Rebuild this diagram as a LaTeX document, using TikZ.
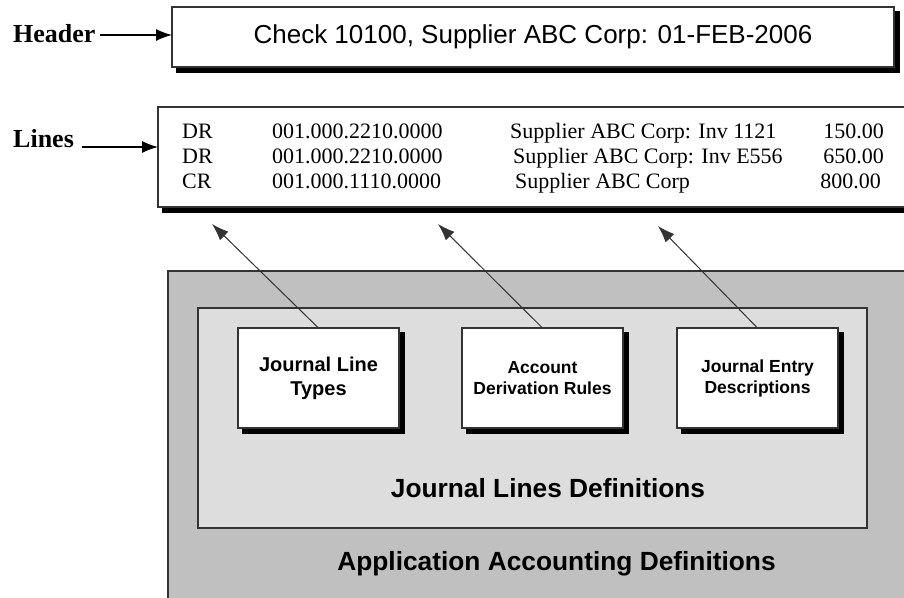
\documentclass[tikz,border=0pt]{standalone}
\usepackage{fontspec}
\setmainfont{Liberation Serif}
\newfontfamily\arialfont{Liberation Sans}
\usetikzlibrary{arrows.meta}
\definecolor{outergray}{HTML}{C0C0C0}
\definecolor{innergray}{HTML}{DDDDDD}
\definecolor{edgegray}{HTML}{333333}
\tikzset{
  shbox/.style={draw=edgegray, line width=1.3pt, fill=white, inner sep=0pt, outer sep=0pt,
    anchor=north west,
    preaction={draw=black, fill=black, line width=1.3pt, transform canvas={shift={(5pt,-5pt)}}}},
  panel/.style={draw=edgegray, line width=1.2pt, inner sep=0pt, outer sep=0pt, anchor=north west},
  lbl/.style={font=\fontsize{26}{28}\selectfont\bfseries, inner sep=0pt, anchor=base west},
  rowtxt/.style={font=\fontsize{22}{24}\selectfont, inner sep=0pt},
  defbox/.style={shbox, minimum width=161pt, minimum height=100pt, align=center,
    font=\arialfont\bfseries\fontsize{17.5}{21}\selectfont},
  title/.style={font=\arialfont\bfseries\fontsize{26.3}{28}\selectfont, inner sep=0pt, anchor=base},
  ptr/.style={draw=edgegray, line width=1pt, -{Latex[length=17pt,width=12pt]}},
  hptr/.style={draw=black, line width=1.2pt, -{Latex[length=16pt,width=12pt]}}
}
\begin{document}
\begin{tikzpicture}[x=1pt,y=-1pt]
\useasboundingbox (0,0) rectangle (904,597);
\clip (0,0) rectangle (904,597);
\fill[white] (0,0) rectangle (904,597);

% header
\node[shbox, minimum width=722pt, minimum height=60pt,
  font=\arialfont\fontsize{26}{28}\selectfont] (header) at (172,7)
  {Check 10100, Supplier ABC Corp: 01-FEB-2006};
\node[lbl] (headerlbl) at (13,42) {Header};
\coordinate (hstart) at (100,35);
\draw[hptr] (hstart) -- (header.west |- hstart);

% lines
\node[shbox, minimum width=760pt, minimum height=100pt] (lines) at (158,107) {};
\node[lbl] (lineslbl) at (13,147) {Lines};
\coordinate (lstart) at (82,147);
\draw[hptr] (lstart) -- (lines.west |- lstart);

\node[rowtxt, anchor=base west] (r1a) at (182,138) {DR};
\node[rowtxt, anchor=base west] (r2a) at (182,163) {DR};
\node[rowtxt, anchor=base west] (r3a) at (182,188) {CR};
\node[rowtxt, anchor=base west] (r1b) at (272,138) {001.000.2210.0000};
\node[rowtxt, anchor=base west] (r2b) at (272,163) {001.000.2210.0000};
\node[rowtxt, anchor=base west] (r3b) at (272,188) {001.000.1110.0000};
\node[rowtxt, anchor=base west] (r1c) at (510,138) {Supplier ABC Corp: Inv 1121};
\node[rowtxt, anchor=base west] (r2c) at (513,163) {Supplier ABC Corp: Inv E556};
\node[rowtxt, anchor=base west] (r3c) at (515,188) {Supplier ABC Corp};
\node[rowtxt, anchor=base east] (r1d) at (884,138) {150.00};
\node[rowtxt, anchor=base east] (r2d) at (884,163) {650.00};
\node[rowtxt, anchor=base east] (r3d) at (881,188) {800.00};

% definitions panels
\node[panel, fill=outergray, minimum width=760pt, minimum height=340pt] (appdef) at (168,271) {};
\node[panel, fill=innergray, minimum width=669pt, minimum height=220pt] (jldef) at (198,308) {};

\node[defbox, font=\arialfont\bfseries\fontsize{20}{24}\selectfont] (jlt) at (238,328) {Journal Line\\Types};
\node[defbox] (adr) at (462,328) {Account\\Derivation Rules};
\node[defbox] (jed) at (677,328) {Journal Entry\\Descriptions};

\node[title] (jltitle) at (548,497) {Journal Lines Definitions};
\node[title] (apptitle) at (556.5,570) {Application Accounting Definitions};

% pointers
\coordinate (t1) at (212,224);
\coordinate (t2) at (438,224);
\coordinate (t3) at (658,226);
\draw[ptr] (jlt.north) -- (t1);
\draw[ptr] (adr.north) -- (t2);
\draw[ptr] (jed.north) -- (t3);
\end{tikzpicture}
\end{document}
